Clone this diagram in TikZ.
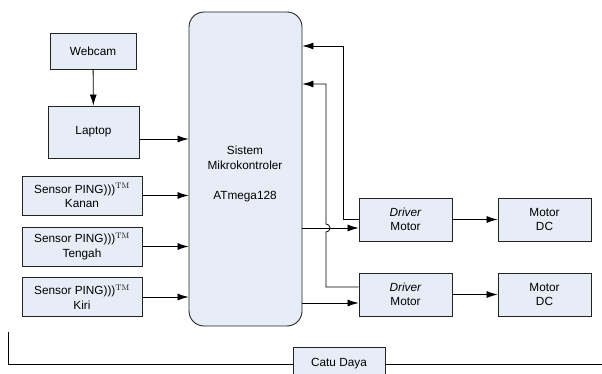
\documentclass[tikz,border=0pt]{standalone}
\usepackage[no-math]{fontspec}
\setmainfont{Liberation Sans}
\usepackage{tikz}
\usetikzlibrary{arrows.meta,positioning,calc}
\definecolor{boxfill}{RGB}{231,237,247}
\definecolor{edge}{RGB}{35,35,35}

\begin{document}
\begin{tikzpicture}[
  x=1pt, y=-1pt,
  font=\fontsize{11.8}{14.5}\selectfont,
  unit/.style={draw=edge, line width=0.9pt, fill=boxfill, align=center, inner sep=1pt},
  sensor/.style={unit, minimum width=120pt, minimum height=39pt},
  drive/.style={unit, minimum width=93pt, minimum height=43pt},
  link/.style={draw=black, line width=0.8pt, -{Latex[length=11pt,width=7pt]}},
  wire/.style={draw=black, line width=0.8pt},
]
\useasboundingbox (0,0) rectangle (602,374);
\clip (0,0) rectangle (602,374);

\node[unit, minimum width=86pt, minimum height=36pt] (webcam) at (93,51) {Webcam};
\node[unit, minimum width=91pt, minimum height=52pt] (laptop) at (93.5,132) {Laptop};
\node[unit, rounded corners=15pt, minimum width=113pt, minimum height=314pt] (mcu) at (245.5,169) {};
\node[align=center] (mcutext) at (245,158) {Sistem\\Mikrokontroler};
\node (atmega) at (245,197) {ATmega128};

\node[sensor] (kanan) at (82,195.5) {Sensor PING)))$^{\mathrm{TM}}$\\Kanan};
\node[sensor] (tengah) at (82,246.5) {Sensor PING)))$^{\mathrm{TM}}$\\Tengah};
\node[sensor] (kiri) at (82,297) {Sensor PING)))$^{\mathrm{TM}}$\\Kiri};

\node[drive] (drv1) at (405.5,219.5) {\textit{Driver}\\Motor};
\node[drive] (drv2) at (405.5,294.5) {\textit{Driver}\\Motor};
\node[drive] (dc1) at (544.5,219.5) {Motor\\DC};
\node[drive] (dc2) at (544.5,294.5) {Motor\\DC};

\node[unit, minimum width=92pt, minimum height=34pt] (catu) at (339,364) {Catu Daya};

% inputs
\draw[link] (webcam) -- (laptop);
\draw[link] ([yshift=-7pt]laptop.east) -- ([yshift=-7pt]laptop.east -| mcu.west);
\draw[link] (kanan.east) -- (kanan.east -| mcu.west);
\draw[link] (tengah.east) -- (tengah.east -| mcu.west);
\draw[link] (kiri.east) -- (kiri.east -| mcu.west);

% outputs
\draw[link] ([yshift=-8.5pt]drv1.west -| mcu.east) -- ([yshift=-8.5pt]drv1.west);
\draw[link] ([yshift=-8.5pt]drv2.west -| mcu.east) -- ([yshift=-8.5pt]drv2.west);
\draw[link] (drv1) -- (dc1);
\draw[link] (drv2) -- (dc2);

% feedback
\coordinate (fb1) at (343,46);
\coordinate (fb2) at (326,84);
\coordinate (hop) at (326,228);
\draw[link] (drv1.west) -| (fb1) -- (fb1 -| mcu.east);
\draw[link] ([yshift=7.5pt]drv2.west) -| ([yshift=-4pt]hop)
  arc[start angle=-90, end angle=90, radius=4pt] -- (fb2) -- (fb2 -| mcu.east);

% power line
\coordinate (pl) at (8,332);
\coordinate (pr) at (602,364);
\draw[wire] (pl) |- (catu.west);
\draw[wire] (catu.east) -- (catu.east -| pr);
\end{tikzpicture}
\end{document}
